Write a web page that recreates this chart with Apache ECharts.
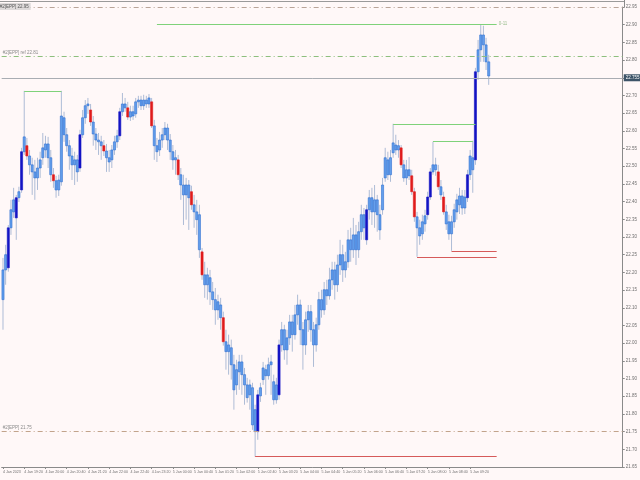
<!DOCTYPE html>
<html>
<head>
<meta charset="utf-8">
<script src="https://cdn.jsdelivr.net/npm/echarts@6/dist/echarts.min.js"></script>
<style>
  html, body { margin: 0; padding: 0; background: #fff8f8; }
  #chart { width: 640px; height: 480px; }
</style>
</head>
<body>
<div id="chart"></div>
<script>
// M5 bars, one tick label every 8 bars
const tickLabels = ['4 Jan 2023', '4 Jan 19:20', '4 Jan 20:00', '4 Jan 20:40', '4 Jan 21:20', '4 Jan 22:00',
  '4 Jan 22:40', '4 Jan 23:20', '5 Jan 00:00', '5 Jan 00:40', '5 Jan 01:20', '5 Jan 02:00', '5 Jan 02:40',
  '5 Jan 03:20', '5 Jan 04:00', '5 Jan 04:40', '5 Jan 05:20', '5 Jan 06:00', '5 Jan 06:40', '5 Jan 07:20',
  '5 Jan 08:00', '5 Jan 08:40', '5 Jan 09:20']

const open = [22.123,22.207,22.213,22.326,22.371,22.354,22.411,22.433,22.541,22.558,
  22.529,22.504,22.484,22.467,22.495,22.524,22.546,22.563,22.524,22.476,
  22.459,22.433,22.456,22.637,22.589,22.558,22.529,22.504,22.518,22.495,
  22.589,22.637,22.671,22.659,22.625,22.591,22.574,22.569,22.558,22.543,
  22.524,22.518,22.546,22.569,22.586,22.654,22.676,22.665,22.639,22.654,
  22.648,22.682,22.687,22.671,22.687,22.676,22.682,22.614,22.558,22.546,
  22.574,22.589,22.608,22.574,22.541,22.518,22.518,22.476,22.447,22.419,
  22.447,22.428,22.391,22.371,22.363,22.258,22.193,22.165,22.185,22.145,
  22.123,22.094,22.108,22.072,22.004,21.976,21.987,21.939,21.882,21.919,
  21.947,21.911,21.882,21.854,21.874,21.812,21.750,21.851,21.897,21.925,
  21.908,21.939,21.891,21.840,21.854,21.995,22.038,21.981,22.015,22.060,
  22.024,22.080,22.108,22.038,21.995,22.066,22.089,22.038,21.995,22.052,
  22.123,22.094,22.151,22.134,22.179,22.207,22.165,22.221,22.250,22.207,
  22.230,22.292,22.264,22.306,22.264,22.315,22.363,22.292,22.377,22.411,
  22.371,22.405,22.363,22.377,22.467,22.518,22.476,22.538,22.560,22.546,
  22.552,22.504,22.467,22.490,22.473,22.428,22.357,22.326,22.309,22.337,
  22.363,22.413,22.484,22.504,22.484,22.442,22.413,22.371,22.343,22.309,
  22.343,22.371,22.391,22.416,22.382,22.411,22.476,22.524,22.518,22.767,
  22.829,22.871,22.843,22.795]

const close = [22.207,22.250,22.326,22.377,22.405,22.411,22.428,22.541,22.583,22.529,
  22.504,22.484,22.467,22.495,22.518,22.552,22.563,22.524,22.476,22.459,
  22.433,22.461,22.642,22.589,22.558,22.529,22.504,22.518,22.484,22.589,
  22.637,22.671,22.676,22.625,22.591,22.574,22.569,22.558,22.543,22.524,
  22.512,22.546,22.569,22.586,22.654,22.676,22.665,22.639,22.654,22.642,
  22.682,22.687,22.671,22.687,22.676,22.693,22.614,22.558,22.541,22.574,
  22.589,22.608,22.574,22.541,22.518,22.524,22.476,22.447,22.419,22.447,
  22.411,22.391,22.371,22.349,22.264,22.193,22.165,22.193,22.145,22.123,
  22.094,22.117,22.072,22.004,21.976,21.995,21.939,21.868,21.925,21.947,
  21.911,21.882,21.846,21.882,21.769,21.750,21.854,21.874,21.930,21.908,
  21.939,21.947,21.840,21.882,21.995,22.038,21.981,22.015,22.060,22.024,
  22.080,22.108,22.038,21.995,22.066,22.089,22.038,21.995,22.052,22.123,
  22.094,22.151,22.134,22.179,22.207,22.165,22.221,22.250,22.207,22.230,
  22.292,22.264,22.306,22.264,22.315,22.363,22.326,22.377,22.411,22.371,
  22.405,22.363,22.320,22.447,22.524,22.476,22.524,22.566,22.546,22.558,
  22.504,22.467,22.490,22.473,22.428,22.357,22.326,22.303,22.343,22.360,
  22.413,22.484,22.504,22.490,22.442,22.419,22.371,22.337,22.309,22.343,
  22.377,22.405,22.416,22.382,22.413,22.476,22.529,22.490,22.767,22.829,
  22.871,22.843,22.795,22.755]

const high = [22.241,22.278,22.334,22.405,22.439,22.419,22.442,22.552,22.713,22.580,
  22.546,22.524,22.518,22.524,22.541,22.594,22.586,22.583,22.546,22.495,
  22.473,22.476,22.713,22.654,22.608,22.574,22.552,22.541,22.532,22.603,
  22.659,22.687,22.693,22.676,22.642,22.608,22.594,22.586,22.574,22.563,
  22.546,22.560,22.586,22.603,22.665,22.707,22.693,22.682,22.671,22.671,
  22.693,22.699,22.699,22.702,22.699,22.704,22.693,22.631,22.580,22.597,
  22.608,22.625,22.620,22.591,22.560,22.546,22.532,22.495,22.476,22.467,
  22.461,22.445,22.419,22.405,22.391,22.269,22.230,22.213,22.207,22.173,
  22.156,22.137,22.128,22.089,22.038,22.024,22.010,21.967,21.953,21.967,
  21.967,21.930,21.902,21.897,21.888,21.826,21.868,21.888,21.947,21.939,
  21.959,21.967,21.911,21.902,22.010,22.060,22.052,22.038,22.080,22.080,
  22.108,22.137,22.123,22.060,22.089,22.108,22.108,22.060,22.072,22.145,
  22.151,22.173,22.179,22.213,22.230,22.230,22.250,22.292,22.278,22.258,
  22.320,22.326,22.354,22.334,22.343,22.391,22.382,22.391,22.433,22.439,
  22.447,22.419,22.391,22.467,22.552,22.541,22.546,22.620,22.589,22.574,
  22.560,22.518,22.518,22.526,22.490,22.439,22.371,22.349,22.363,22.377,
  22.428,22.495,22.569,22.524,22.504,22.461,22.428,22.391,22.363,22.360,
  22.394,22.422,22.439,22.433,22.433,22.490,22.546,22.572,22.778,22.857,
  22.902,22.897,22.863,22.815]

const low = [22.038,22.165,22.202,22.306,22.354,22.292,22.399,22.425,22.532,22.518,
  22.476,22.419,22.405,22.433,22.467,22.504,22.524,22.495,22.456,22.439,
  22.411,22.416,22.445,22.569,22.541,22.490,22.461,22.447,22.456,22.484,
  22.580,22.620,22.648,22.614,22.558,22.546,22.532,22.518,22.529,22.484,
  22.484,22.495,22.532,22.552,22.574,22.642,22.654,22.631,22.628,22.631,
  22.637,22.665,22.659,22.659,22.665,22.665,22.608,22.518,22.512,22.529,
  22.552,22.574,22.546,22.518,22.490,22.476,22.461,22.405,22.334,22.349,
  22.320,22.377,22.326,22.306,22.241,22.179,22.128,22.123,22.108,22.094,
  22.052,22.066,22.038,21.993,21.925,21.911,21.897,21.812,21.854,21.868,
  21.854,21.826,21.832,21.812,21.755,21.679,21.727,21.834,21.882,21.854,
  21.897,21.854,21.826,21.829,21.840,21.976,21.953,21.939,21.995,21.976,
  22.010,22.052,21.995,21.925,21.967,22.032,22.004,21.933,21.976,22.038,
  22.072,22.080,22.108,22.123,22.151,22.123,22.145,22.193,22.173,22.185,
  22.213,22.230,22.241,22.221,22.241,22.292,22.292,22.278,22.349,22.334,
  22.326,22.315,22.292,22.363,22.456,22.461,22.456,22.524,22.532,22.524,
  22.495,22.456,22.447,22.461,22.419,22.343,22.244,22.278,22.292,22.315,
  22.349,22.405,22.476,22.473,22.433,22.405,22.363,22.320,22.292,22.261,
  22.326,22.349,22.365,22.363,22.365,22.399,22.461,22.425,22.504,22.744,
  22.795,22.795,22.772,22.730]

// bars flagged by the signal indicator
const strongUp = [2, 5, 7, 29, 44, 96, 104, 137, 160, 161, 175, 178]
const strongDown = [9, 19, 33, 38, 47, 56, 66, 71, 75, 83, 150, 154, 155, 164, 166]

// swing high / low levels: [price, from bar, to bar]
const highLevels = [[22.713, 8, 22], [22.620, 147, 178], [22.572, 162, 177], [22.902, 58, 186]]
const lowLevels = [[21.679, 95, 186], [22.244, 156, 186], [22.261, 169, 186]]

const eppTop = 22.95
const eppRef = 22.809
const eppLow = 21.752
const lastPrice = 22.755

const slots = 234
const categories = []
for (let i = 0; i < slots; i++) {
  categories.push(i % 8 === 0 && i / 8 < tickLabels.length ? tickLabels[i / 8] : '')
}

const LIGHT_FILL = '#639fec'
const LIGHT_EDGE = '#2f6fd2'
const DARK_BLUE = '#1414c4'
const RED = '#e01c1c'
const WICK = '#aebcd6'
const FONT = 'Liberation Sans'

const candleData = open.map((o, i) => [i, o, close[i], low[i], high[i]])

function renderCandle(params, api) {
  const i = api.value(0)
  const pO = api.coord([i, api.value(1)])
  const pC = api.coord([i, api.value(2)])
  const pL = api.coord([i, api.value(3)])
  const pH = api.coord([i, api.value(4)])
  const w = api.size([1, 0])[0] * 0.8
  let fill = LIGHT_FILL
  let stroke = LIGHT_EDGE
  if (strongUp.includes(i)) { fill = DARK_BLUE; stroke = DARK_BLUE }
  else if (strongDown.includes(i)) { fill = RED; stroke = RED }
  const top = Math.min(pO[1], pC[1])
  const hgt = Math.max(Math.abs(pO[1] - pC[1]), 1)
  return {
    type: 'group',
    children: [
      { type: 'line', shape: { x1: pH[0], y1: pH[1], x2: pL[0], y2: pL[1] }, style: { stroke: WICK, lineWidth: 1 } },
      { type: 'rect', shape: { x: pO[0] - w / 2, y: top, width: w, height: hgt }, style: { fill: fill, stroke: stroke, lineWidth: 0.6 } }
    ]
  }
}

const levelLines = []
highLevels.forEach(l => {
  levelLines.push([{ coord: [l[1], l[0]], lineStyle: { color: '#7fd27a', width: 1, type: 'solid' } }, { coord: [l[2], l[0]] }])
})
lowLevels.forEach(l => {
  levelLines.push([{ coord: [l[1], l[0]], lineStyle: { color: '#d65a5a', width: 1, type: 'solid' } }, { coord: [l[2], l[0]] }])
})
// small tag at the end of the top level
levelLines[3][0].label = { show: true, position: 'end', formatter: '0-11', color: '#9bbf8f', fontSize: 4.5, fontFamily: FONT, distance: 2, padding: [12, 0, 0, 0] }

const smallLabel = { show: true, position: 'insideStartTop', fontSize: 4.5, fontFamily: FONT, distance: 1 }

const options = {
  animation: false,
  backgroundColor: '#fff8f8',
  grid: { left: 0, right: 16, top: 7, bottom: 13 },
  xAxis: {
    type: 'category',
    data: categories,
    boundaryGap: true,
    axisLine: { lineStyle: { color: '#8a8a8a' } },
    axisTick: {
      show: true,
      length: 2,
      alignWithLabel: true,
      interval: (i, v) => v !== '',
      lineStyle: { color: '#8a8a8a' }
    },
    axisLabel: {
      interval: (i, v) => v !== '',
      showMinLabel: true,
      hideOverlap: false,
      align: 'left',
      fontSize: 3.6,
      fontFamily: FONT,
      color: '#6f6f6f',
      margin: 3
    },
    splitLine: { show: false }
  },
  yAxis: {
    type: 'value',
    position: 'right',
    min: 21.65,
    max: 22.95,
    interval: 0.05,
    axisLine: { show: true, lineStyle: { color: '#8a8a8a' } },
    axisTick: { show: true, length: 2, lineStyle: { color: '#8a8a8a' } },
    axisLabel: {
      fontSize: 4.5,
      fontFamily: FONT,
      color: '#6f6f6f',
      margin: 3,
      formatter: v => v.toFixed(2)
    },
    splitLine: { show: false }
  },
  graphic: [
    { type: 'line', shape: { x1: 0, y1: 1.5, x2: 624, y2: 1.5 }, style: { stroke: '#9a9a9a', lineWidth: 1 } },
    { type: 'line', shape: { x1: 624.5, y1: 0, x2: 624.5, y2: 7 }, style: { stroke: '#8a8a8a', lineWidth: 1 } }
  ],
  series: [
    {
      type: 'line',
      data: close.map(() => null),
      showSymbol: false,
      silent: true,
      markLine: {
        silent: true,
        symbol: ['none', 'none'],
        label: { show: false },
        data: [
          { yAxis: eppTop, lineStyle: { color: '#b9a498', width: 1, type: [5, 3, 1, 3] },
            label: Object.assign({}, smallLabel, { formatter: '#2[EPP] 22.95', color: '#555', backgroundColor: '#dedada', padding: [1, 2], position: 'insideStartBottom', distance: -4 }) },
          { yAxis: eppRef, lineStyle: { color: '#8dbf7d', width: 1, type: [5, 3, 1, 3] },
            label: Object.assign({}, smallLabel, { formatter: '#2[EPP] ref 22.81', color: '#8a8a8a' }) },
          { yAxis: eppLow, lineStyle: { color: '#c2a48c', width: 1, type: [5, 3, 1, 3] },
            label: Object.assign({}, smallLabel, { formatter: '#2[EPP] 21.75', color: '#8a8a8a' }) },
          { yAxis: lastPrice, lineStyle: { color: '#a9adb3', width: 1, type: 'solid' },
            label: { show: true, position: 'end', distance: 1, formatter: lastPrice.toFixed(3), color: '#ffffff', backgroundColor: '#3d5468', fontSize: 4.5, fontFamily: FONT, padding: [1, 2] } }
        ].concat(levelLines)
      }
    },
    {
      type: 'custom',
      renderItem: renderCandle,
      data: candleData,
      encode: { x: 0, y: [1, 2, 3, 4] },
      silent: true
    }
  ]
}

const chart = echarts.init(document.getElementById('chart'))
chart.setOption(options)
window.addEventListener('resize', () => chart.resize())
</script>
</body>
</html>
